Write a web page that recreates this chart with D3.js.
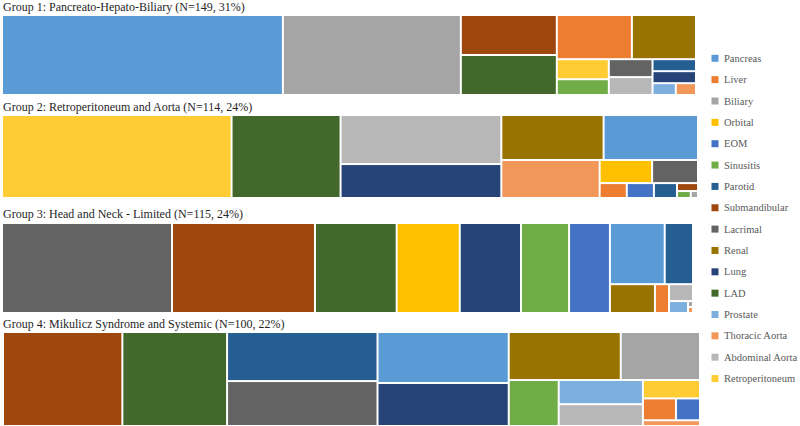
<!DOCTYPE html>
<html><head><meta charset="utf-8">
<script src="https://cdn.jsdelivr.net/npm/d3@7"></script>
<style>
body{margin:0;background:#fff}
text{font-family:"Liberation Serif","Times New Roman","DejaVu Serif",serif}
</style></head>
<body><svg id="c" width="800" height="426"></svg>
<script>
// ---- data ----
const organs = ["Pancreas","Liver","Biliary","Orbital","EOM","Sinusitis","Parotid","Submandibular","Lacrimal","Renal","Lung","LAD","Prostate","Thoracic Aorta","Abdominal Aorta","Retroperitoneum"];
const organColors = ["#5B9BD5","#ED7D31","#A5A5A5","#FFC000","#4472C4","#70AD47","#255E91","#9E480E","#636363","#997300","#264478","#43682B","#7CAFDD","#F1975A","#B7B7B7","#FFCD33"];
const groupLabels = [
  "Group 1: Pancreato-Hepato-Biliary (N=149, 31%)",
  "Group 2: Retroperitoneum and Aorta (N=114, 24%)",
  "Group 3: Head and Neck - Limited (N=115, 24%)",
  "Group 4: Mikulicz Syndrome and Systemic (N=100, 22%)"
];
// values per group, in the order of `organs`
const group1Values = [60.3, 8.9, 38.2, 0, 0, 2.2, 1.4, 10.3, 2.1, 7.6, 1.4, 10.3, 0.74, 0.64, 2.1, 2.8];
const group2Values = [8.4, 0.8, 0.1, 2.4, 0.8, 0.19, 0.68, 0.33, 2.1, 9.1, 10.8, 17.9, 0, 7.4, 15.6, 37.7];
const group3Values = [6.2, 0.75, 0.055, 10.5, 6.8, 8.0, 3.2, 23.8, 28.3, 2.4, 10.2, 13.6, 0.42, 0.055, 0.75, 0];
const group4Values = [10.2, 1.1, 5.8, 0, 0.8, 3.5, 11.25, 17.1, 10.3, 8.2, 8.6, 15.0, 3.1, 0.5, 2.8, 1.6];
const groupValues = [group1Values, group2Values, group3Values, group4Values];

// tiling order (nesting of slice/dice strips), names only
const group1Tiling = ["Pancreas","Biliary",["Submandibular","LAD"],[["Liver","Renal"],[["Retroperitoneum","Sinusitis"],["Lacrimal","Abdominal Aorta"],["Parotid","Lung",["Prostate","Thoracic Aorta"]]]]];
const group2Tiling = ["Retroperitoneum","LAD",["Abdominal Aorta","Lung"],[["Renal","Pancreas"],["Thoracic Aorta",[["Orbital","Lacrimal"],["Liver","EOM","Parotid",["Submandibular",["Sinusitis","Biliary"]]]]]]];
const group3Tiling = ["Lacrimal","Submandibular","LAD","Orbital","Lung","Sinusitis","EOM",[["Pancreas","Parotid"],["Renal","Liver",["Abdominal Aorta",["Prostate",["Biliary","Thoracic Aorta"]]]]]];
const group4Tiling = ["Submandibular","LAD",["Parotid","Lacrimal"],["Pancreas","Lung"],[["Renal","Biliary"],["Sinusitis",["Prostate","Abdominal Aorta"],["Retroperitoneum",["Liver","EOM"],"Thoracic Aorta"]]]];
const groupTilings = [group1Tiling, group2Tiling, group3Tiling, group4Tiling];

// ---- layout (pixel boxes for each group band) ----
const boxes = [
  {x0:3, y0:16,  x1:695, y1:94,  ty:11},
  {x0:3, y0:116, x1:697, y1:197, ty:111},
  {x0:3, y0:224, x1:692, y1:312, ty:218},
  {x0:4, y0:333, x1:699, y1:425, ty:328}
];

const svg = d3.select("#c");
const color = d3.scaleOrdinal().domain(organs).range(organColors);

groupTilings.forEach((tiling, gi) => {
  const vals = groupValues[gi];
  const b = boxes[gi];
  const root = d3.hierarchy(tiling, d => Array.isArray(d) ? d : null)
    .sum(d => Array.isArray(d) ? 0 : vals[organs.indexOf(d)]);
  d3.treemap()
    .tile(d3.treemapSliceDice)
    .size([b.x1 - b.x0, b.y1 - b.y0])
    .paddingInner(2)(root);
  const g = svg.append("g").attr("transform", `translate(${b.x0},${b.y0})`);
  g.selectAll("rect").data(root.leaves()).join("rect")
    .attr("x", d => d.x0)
    .attr("y", d => d.y0)
    .attr("width", d => Math.max(0.5, d.x1 - d.x0))
    .attr("height", d => Math.max(0.5, d.y1 - d.y0))
    .attr("fill", d => color(d.data));
  svg.append("text")
    .attr("x", 3).attr("y", b.ty)
    .style("font-size", "12px")
    .attr("fill", "#262626")
    .text(groupLabels[gi]);
});

// ---- legend ----
const leg = svg.append("g");
organs.forEach((o, i) => {
  const cy = 58.3 + i * 21.35;
  leg.append("rect").attr("x", 711.5).attr("y", cy - 3.5).attr("width", 7).attr("height", 7).attr("fill", color(o));
  leg.append("text").attr("x", 724).attr("y", cy + 3.6)
    .style("font-size", "10.5px").attr("fill", "#595959").text(o);
});
</script></body></html>
